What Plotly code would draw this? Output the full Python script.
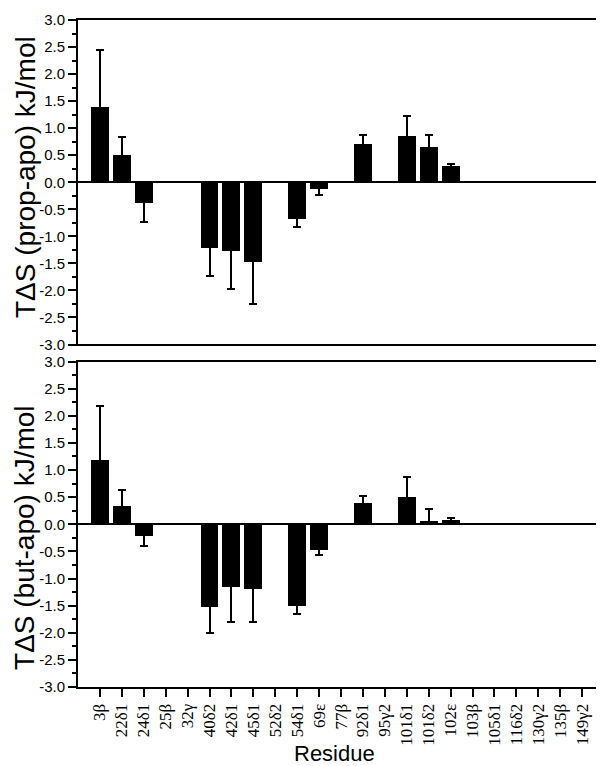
import plotly.graph_objects as go

residues = ["3β", "22δ1", "24δ1", "25β", "32γ", "40δ2", "42δ1", "45δ1", "52δ2", "54δ1",
            "69ε", "77β", "92δ1", "95γ2", "101δ1", "101δ2", "102ε", "103β", "105δ1",
            "116δ2", "130γ2", "135β", "149γ2"]

prop_vals = [1.39, 0.50, -0.38, None, None, -1.22, -1.27, -1.47, None, -0.68,
             -0.13, None, 0.71, None, 0.86, 0.66, 0.30, None, None, None, None, None, None]
prop_err = [1.06, 0.33, 0.36, 0, 0, 0.52, 0.71, 0.78, 0, 0.15,
            0.11, 0, 0.16, 0, 0.36, 0.22, 0.03, 0, 0, 0, 0, 0, 0]

but_vals = [1.20, 0.34, -0.20, None, None, -1.52, -1.14, -1.19, None, -1.49,
            -0.47, None, 0.40, None, 0.52, 0.07, 0.09, None, None, None, None, None, None]
but_err = [0.98, 0.29, 0.20, 0, 0, 0.49, 0.66, 0.61, 0, 0.17,
           0.09, 0, 0.13, 0, 0.36, 0.21, 0.03, 0, 0, 0, 0, 0, 0]

ytick_vals = [-3.0, -2.5, -2.0, -1.5, -1.0, -0.5, 0.0, 0.5, 1.0, 1.5, 2.0, 2.5, 3.0]
ytick_text = [f"{v:.1f}" for v in ytick_vals]

y_titles = ["TΔS (prop-apo) kJ/mol", "TΔS (but-apo) kJ/mol"]
x_title = "Residue"


def split_err(vals, errs):
    # one-sided error bars pointing away from zero; the inner end is pushed
    # back to the zero line so its cap hides under the zero line
    plus, minus = [], []
    for v, e in zip(vals, errs):
        if v is None:
            plus.append(0); minus.append(0)
        elif v >= 0:
            plus.append(e); minus.append(v)
        else:
            plus.append(-v); minus.append(e)
    return plus, minus


fig = go.Figure()
for vals, errs, xa, ya in [(prop_vals, prop_err, "x", "y"), (but_vals, but_err, "x2", "y2")]:
    p, m = split_err(vals, errs)
    fig.add_trace(go.Bar(
        x=residues, y=vals, xaxis=xa, yaxis=ya, width=0.82,
        marker=dict(color="black", line=dict(width=0)),
        error_y=dict(type="data", symmetric=False, array=p, arrayminus=m,
                     color="black", thickness=2, width=4),
        showlegend=False,
    ))

tick_font = dict(family="Liberation Sans, Arial", size=15, color="black")
xcommon = dict(type="category", categoryorder="array", categoryarray=residues,
               range=[-1, 23], showline=True, linecolor="black", linewidth=2,
               mirror=True, showgrid=False, zeroline=False, automargin=False)
ycommon = dict(range=[-3, 3], tickvals=ytick_vals, ticktext=ytick_text,
               ticks="outside", ticklen=8, tickwidth=2, tickcolor="black",
               showline=True, linecolor="black", linewidth=2, mirror=False,
               showgrid=False, zeroline=True, zerolinecolor="black", zerolinewidth=2,
               minor=dict(dtick=0.25, tick0=0, ticks="outside", ticklen=4,
                          tickwidth=2, tickcolor="black"),
               tickfont=tick_font, automargin=False)

# the page body has an 8px margin, so the figure is offset by 8px
fig.update_layout(
    width=596, height=758,
    margin=dict(l=70, r=0, t=12, b=79),
    paper_bgcolor="white", plot_bgcolor="white",
    bargap=0,
    xaxis=dict(**xcommon, domain=[0, 1], anchor="y", showticklabels=False, ticks=""),
    yaxis=dict(**ycommon, domain=[0.5135, 1], anchor="x"),
    xaxis2=dict(**xcommon, domain=[0, 1], anchor="y2", ticks="outside", ticklen=8,
                tickwidth=2, tickcolor="black", tickangle=-90,
                tickfont=dict(family="Liberation Serif, Times New Roman", size=17, color="black")),
    yaxis2=dict(**ycommon, domain=[0, 0.488], anchor="x2"),
)

title_font = dict(family="Liberation Sans, Arial", size=28, color="black")
for text, yp in zip(y_titles, [0.7646, 0.2249]):
    fig.add_annotation(text=text, xref="paper", yref="paper", x=-0.1008, y=yp,
                       textangle=-90, showarrow=False, font=title_font,
                       xanchor="center", yanchor="middle")
fig.add_annotation(text=x_title, xref="paper", yref="paper", x=0.4876, y=-0.099,
                   showarrow=False, xanchor="center", yanchor="middle",
                   font=dict(family="Liberation Sans, Arial", size=22, color="black"))

fig.write_html("out.html")
